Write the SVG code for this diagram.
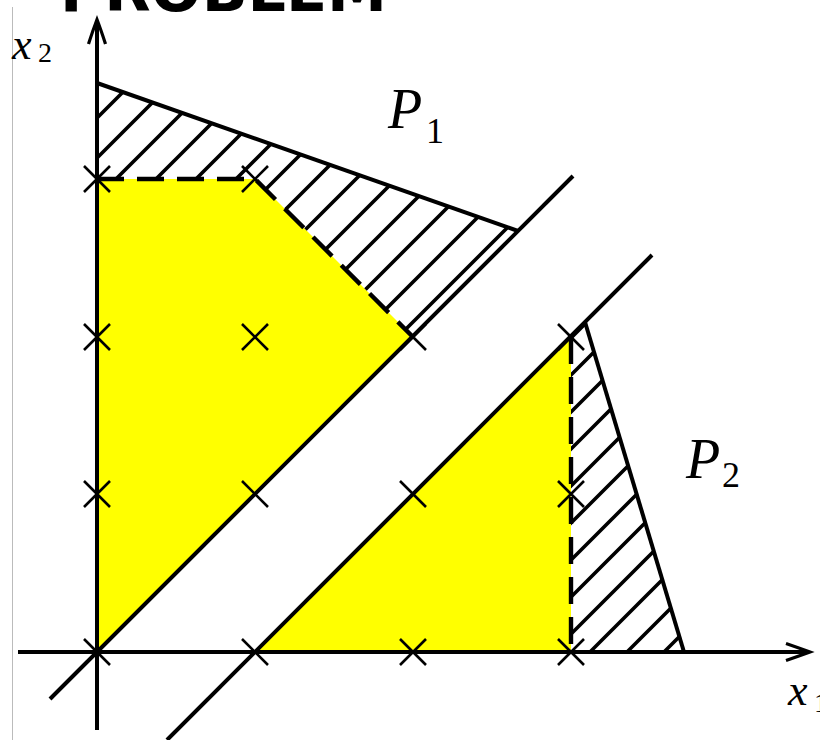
<svg xmlns="http://www.w3.org/2000/svg" xmlns:xlink="http://www.w3.org/1999/xlink" width="820" height="740" viewBox="0 0 820 740">
<style>
.ln{stroke:#000;stroke-width:4;fill:none;stroke-linecap:butt}
.ds{stroke:#000;stroke-width:4.4;fill:none;stroke-dasharray:27 13}
.cr{stroke:#000;stroke-width:2.6;fill:none}
.hp{stroke:#000;stroke-width:3.6}
.lab{font-family:"Liberation Serif","DejaVu Serif",serif;font-style:italic;fill:#000}
.num{font-family:"Liberation Serif","DejaVu Serif",serif;fill:#000}
</style>
<defs>
<pattern id="h1" patternUnits="userSpaceOnUse" x="15" y="0" width="40" height="40">
<path class="hp" d="M0,40L40,0M-10,10L10,-10M30,50L50,30"/>
</pattern>
<pattern id="h2" patternUnits="userSpaceOnUse" x="21" y="0" width="37" height="37">
<path class="hp" d="M0,37L37,0M-10,10L10,-10M27,47L47,27"/>
</pattern>
<path id="x" d="M-13,-13L13,13M-13,13L13,-13"/>
</defs>
<rect width="820" height="740" fill="#fff"/>
<line x1="12.5" y1="7" x2="12.5" y2="740" stroke="#bbb" stroke-width="1"/>
<text id="title" x="60" y="11" font-family="'DejaVu Sans',sans-serif" font-weight="bold" font-size="60" textLength="327" lengthAdjust="spacingAndGlyphs">PROBLEM</text>
<g id="regions">
<polygon id="yellow1" points="97,652 97,179 255,179 413,337" fill="#ffff00"/>
<polygon id="yellow2" points="255,652 571,652 571,337" fill="#ffff00"/>
<polygon id="P1hatch" points="97,83 518,231 413,337 255,179 97,179" fill="url(#h1)"/>
<polygon id="P2hatch" points="571,337 585,322 684,652 571,652" fill="url(#h2)"/>
</g>
<g id="connectors">
<line class="ln" x1="50" y1="699" x2="573" y2="176"/>
<line class="ln" x1="167" y1="740" x2="652" y2="255"/>
<line class="ln" x1="97" y1="83" x2="518" y2="231"/>
<line class="ln" x1="585" y1="322" x2="684" y2="652"/>
<polyline class="ds" points="97,179 255,179 413,337"/>
<line class="ds" x1="571" y1="337" x2="571" y2="652"/>
</g>
<g id="axes">
<line class="ln" x1="97" y1="730" x2="97" y2="22"/>
<path d="M88.5,44 Q93,30 97,19.5 Q101,30 105.5,44" stroke="#000" stroke-width="3.2" fill="none"/>
<line class="ln" x1="18" y1="652" x2="807" y2="652"/>
<path d="M786,643.5 Q799,648 810,652 Q799,656 786,660.5" stroke="#000" stroke-width="3.2" fill="none"/>
</g>
<g id="points">
<use xlink:href="#x" class="cr" x="97" y="652"/>
<use xlink:href="#x" class="cr" x="255" y="652"/>
<use xlink:href="#x" class="cr" x="413" y="652"/>
<use xlink:href="#x" class="cr" x="571" y="652"/>
<use xlink:href="#x" class="cr" x="97" y="494"/>
<use xlink:href="#x" class="cr" x="255" y="494"/>
<use xlink:href="#x" class="cr" x="413" y="494"/>
<use xlink:href="#x" class="cr" x="571" y="494"/>
<use xlink:href="#x" class="cr" x="97" y="337"/>
<use xlink:href="#x" class="cr" x="255" y="337"/>
<use xlink:href="#x" class="cr" x="413" y="337"/>
<use xlink:href="#x" class="cr" x="571" y="337"/>
<use xlink:href="#x" class="cr" x="97" y="179"/>
<use xlink:href="#x" class="cr" x="255" y="179"/>
</g>
<g id="labels">
<text class="lab" x="12" y="59" font-size="44">x</text>
<text class="num" x="38" y="62" font-size="28">2</text>
<text class="lab" x="788" y="705" font-size="44">x</text>
<text class="num" x="814" y="712" font-size="28">1</text>
<text class="lab" x="388" y="128" font-size="56">P</text>
<text class="num" x="426" y="143" font-size="36">1</text>
<text class="lab" x="686" y="478" font-size="56">P</text>
<text class="num" x="722" y="487" font-size="36">2</text>
</g>
</svg>
